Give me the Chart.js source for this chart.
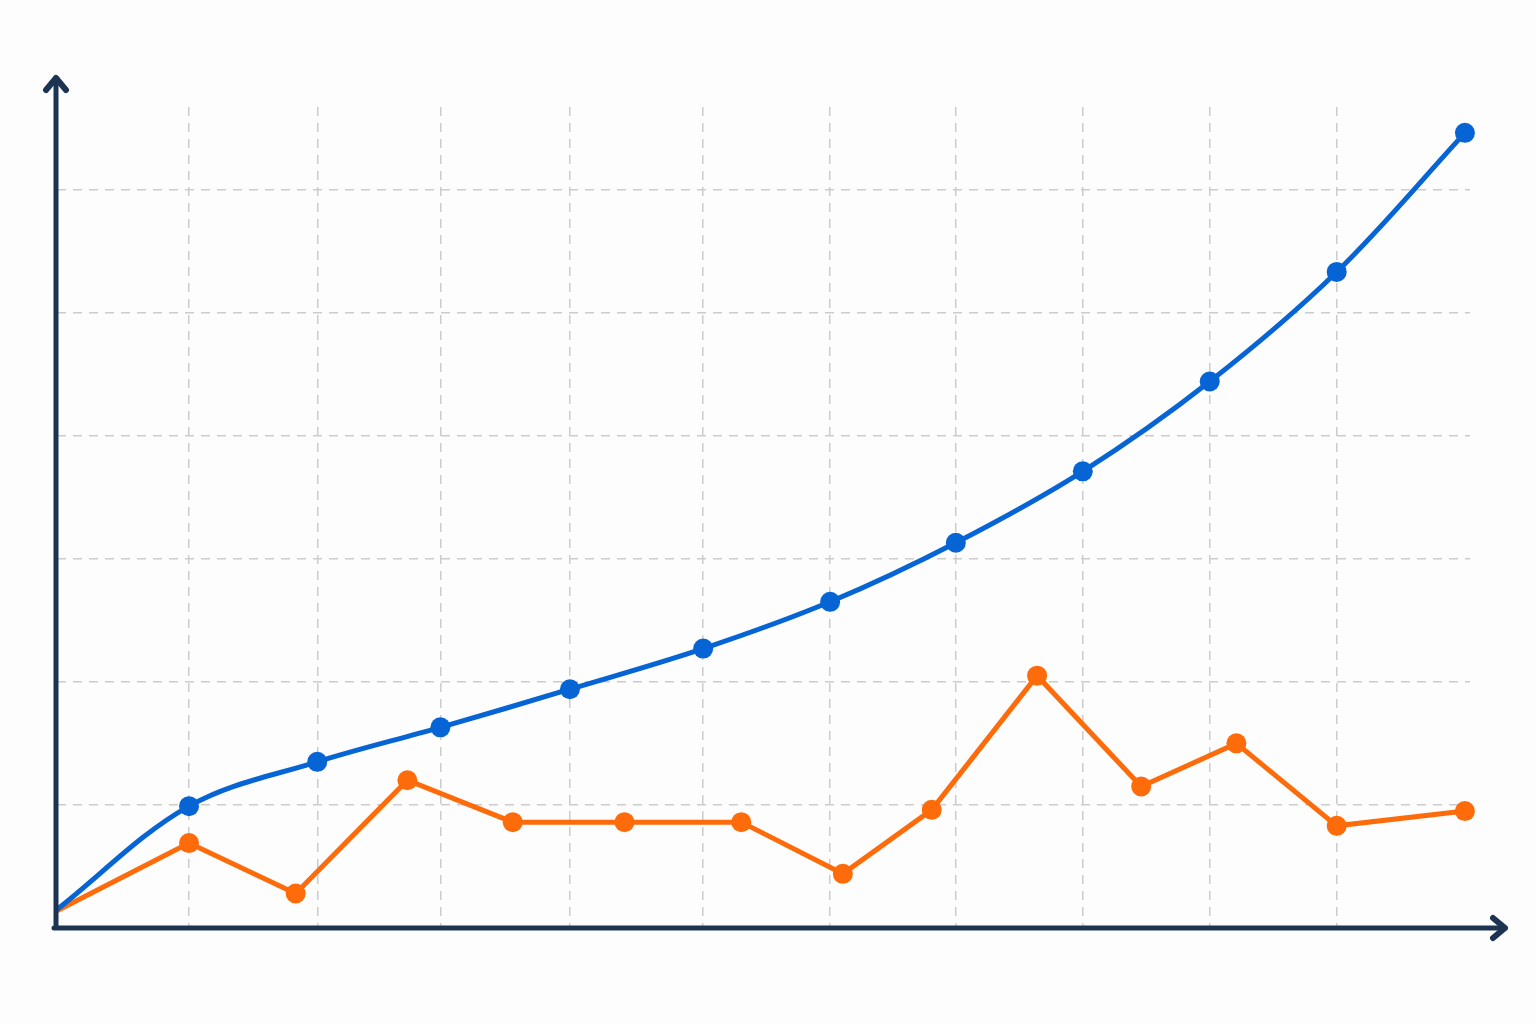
<!DOCTYPE html>
<html>
<head>
<meta charset="utf-8">
<script src="https://cdn.jsdelivr.net/npm/chart.js@4"></script>
<style>
    html, body { margin: 0; padding: 0; background: #fdfdfd; }
    canvas { display: block; }
</style>
</head>
<body>
<canvas id="chart" width="1536" height="1024"></canvas>
<script>
// data (x in grid steps, y in grid steps)
const xGridTicks = [1.04, 2.05, 3.02, 4.04, 5.09, 6.09, 7.08, 8.08, 9.08, 10.08];
const yGridTicks = [1, 2, 3, 4, 5, 6];
const xMax = 11.13;
const yMax = 6.67;

const blueX = [0, 1.04, 2.05, 3.02, 4.04, 5.09, 6.09, 7.08, 8.08, 9.08, 10.08, 11.09];
const blueY = [0.15, 0.99, 1.35, 1.63, 1.94, 2.27, 2.65, 3.13, 3.71, 4.44, 5.33, 6.46];

const orangeX = [0, 1.04, 1.88, 2.76, 3.59, 4.47, 5.39, 6.19, 6.89, 7.72, 8.54, 9.29, 10.08, 11.09];
const orangeY = [0.14, 0.69, 0.28, 1.20, 0.86, 0.86, 0.86, 0.44, 0.96, 2.05, 1.15, 1.50, 0.83, 0.95];

const AXIS_COLOR = '#1c3452';

function toPoints(xs, ys) {
    return xs.map((x, i) => ({ x: x, y: ys[i] }));
}

// hide the marker on the first point (the origin end)
function radii(n) {
    return Array.from({ length: n }, (_, i) => i === 0 ? 0 : 10);
}

// axis lines with arrow heads
const arrowAxes = {
    id: 'arrowAxes',
    afterDatasetsDraw(chart) {
        const { ctx, chartArea } = chart;
        const x0 = chartArea.left - 1;
        const y0 = chartArea.bottom;
        const topY = 78;
        const rightX = 1505;
        ctx.save();
        ctx.strokeStyle = AXIS_COLOR;
        ctx.lineWidth = 5;
        ctx.lineCap = 'round';
        ctx.lineJoin = 'round';
        ctx.beginPath();
        ctx.moveTo(x0, y0);
        ctx.lineTo(x0, topY);
        ctx.moveTo(x0 - 2, y0);
        ctx.lineTo(rightX, y0);
        ctx.stroke();
        // arrow heads
        ctx.lineWidth = 6;
        ctx.beginPath();
        ctx.moveTo(x0 - 10, topY + 12);
        ctx.lineTo(x0, topY);
        ctx.lineTo(x0 + 10, topY + 12);
        ctx.moveTo(rightX - 12, y0 - 10);
        ctx.lineTo(rightX, y0);
        ctx.lineTo(rightX - 12, y0 + 10);
        ctx.stroke();
        ctx.restore();
    }
};

const gridStyle = {
    color: '#cccccc',
    lineWidth: 1.5,
    drawTicks: false
};

new Chart(document.getElementById('chart'), {
    type: 'line',
    data: {
        datasets: [
            {
                label: 'Blue',
                data: toPoints(blueX, blueY),
                borderColor: '#0764d4',
                backgroundColor: '#0764d4',
                borderWidth: 5,
                pointRadius: radii(blueX.length),
                pointBorderWidth: 0,
                tension: 0.35,
                clip: false
            },
            {
                label: 'Orange',
                data: toPoints(orangeX, orangeY),
                borderColor: '#fd6b0a',
                backgroundColor: '#fd6b0a',
                borderWidth: 5,
                pointRadius: radii(orangeX.length),
                pointBorderWidth: 0,
                tension: 0,
                clip: false
            }
        ]
    },
    options: {
        responsive: false,
        animation: false,
        layout: { padding: { left: 57, right: 66, top: 107, bottom: 96 } },
        plugins: {
            legend: { display: false },
            tooltip: { enabled: false }
        },
        scales: {
            x: {
                type: 'linear',
                min: 0,
                max: xMax,
                afterBuildTicks: axis => { axis.ticks = xGridTicks.map(v => ({ value: v })); },
                ticks: { display: false },
                border: { display: false, dash: [9, 7] },
                grid: gridStyle
            },
            y: {
                type: 'linear',
                min: 0,
                max: yMax,
                afterBuildTicks: axis => { axis.ticks = yGridTicks.map(v => ({ value: v })); },
                ticks: { display: false },
                border: { display: false, dash: [9, 7] },
                grid: gridStyle
            }
        }
    },
    plugins: [arrowAxes]
});
</script>
</body>
</html>
